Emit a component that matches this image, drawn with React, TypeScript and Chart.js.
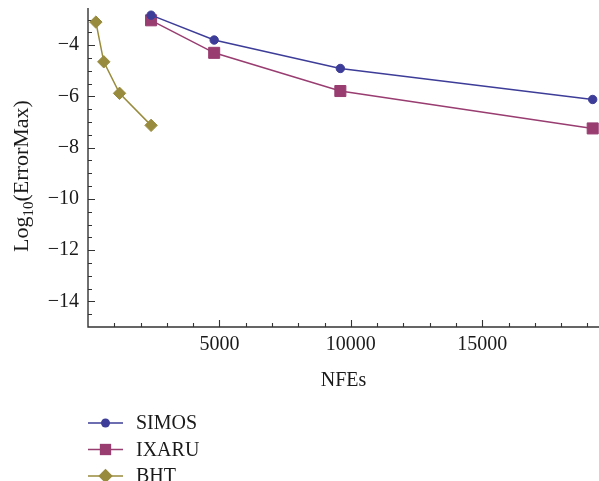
import React, { useEffect, useRef } from 'react';
import { Chart, registerables } from 'chart.js';

Chart.register(...registerables);

// ---- data ----
const seriesNames = ['SIMOS', 'IXARU', 'BHT'];
const simosNFEs = [2400, 4800, 9600, 19200];
const simosLogErr = [-2.83, -3.8, -4.91, -6.12];
const ixaruNFEs = [2400, 4800, 9600, 19200];
const ixaruLogErr = [-3.03, -4.3, -5.79, -7.25];
const bhtNFEs = [300, 600, 1200, 2400];
const bhtLogErr = [-3.1, -4.65, -5.88, -7.13];
const xTickValues = [5000, 10000, 15000];
const yTickValues = [-14, -12, -10, -8, -6, -4];
const xTitle = 'NFEs';
const yTitleMain = 'Log';
const yTitleSub = '10';
const yTitleRest = '(ErrorMax)';

// ---- styles ----
const FONT = '"Liberation Serif", "Times New Roman", serif';
const TEXT_COLOR = '#1a1a1a';
const AXIS_COLOR = '#333333';
const COLORS = ['rgb(61,61,153)', 'rgb(153,61,113)', 'rgb(153,139,61)'];
const POINT_STYLES = ['circle', 'rect', 'rectRot'];
const POINT_RADII = [4.2, 7.8, 6.2];

function toPoints(xs: number[], ys: number[]) {
  return xs.map((x, i) => ({ x, y: ys[i] }));
}

function drawMarker(ctx: CanvasRenderingContext2D, style: string, x: number, y: number, r: number) {
  ctx.beginPath();
  if (style === 'circle') {
    ctx.arc(x, y, r, 0, Math.PI * 2);
  } else if (style === 'rect') {
    const s = r * Math.SQRT1_2;
    ctx.rect(x - s, y - s, 2 * s, 2 * s);
  } else {
    ctx.moveTo(x - r, y);
    ctx.lineTo(x, y - r);
    ctx.lineTo(x + r, y);
    ctx.lineTo(x, y + r);
    ctx.closePath();
  }
  ctx.fill();
}

const framePlugin = {
  id: 'frame',
  beforeDatasetsDraw(chart: any) {
    const { ctx, chartArea } = chart;
    const { left, right, top, bottom } = chartArea;
    const xs = chart.scales.x;
    const ys = chart.scales.y;
    ctx.save();
    ctx.strokeStyle = AXIS_COLOR;
    ctx.lineWidth = 1.4;
    ctx.beginPath();
    ctx.moveTo(left, top);
    ctx.lineTo(left, bottom);
    ctx.lineTo(right, bottom);
    ctx.stroke();
    ctx.lineWidth = 1.1;
    ctx.beginPath();
    for (let v = 1000; v <= xs.max; v += 1000) {
      const px = Math.round(xs.getPixelForValue(v)) + 0.5;
      const len = v % 5000 === 0 ? 7 : 4;
      ctx.moveTo(px, bottom);
      ctx.lineTo(px, bottom - len);
    }
    for (let v = ys.min + 0.5; v <= ys.max; v += 0.5) {
      const py = Math.round(ys.getPixelForValue(v)) + 0.5;
      const len = Math.abs(v % 2) < 1e-9 ? 7 : 4;
      ctx.moveTo(left, py);
      ctx.lineTo(left + len, py);
    }
    ctx.stroke();
    ctx.restore();
  },
  afterDraw(chart: any) {
    const { ctx } = chart;
    ctx.save();
    // y-axis title with subscript
    ctx.fillStyle = TEXT_COLOR;
    ctx.translate(21, 176);
    ctx.rotate(-Math.PI / 2);
    ctx.textBaseline = 'alphabetic';
    ctx.font = `22px ${FONT}`;
    const wMain = ctx.measureText(yTitleMain).width;
    const wRest = ctx.measureText(yTitleRest).width;
    ctx.font = `15px ${FONT}`;
    const wSub = ctx.measureText(yTitleSub).width;
    let p = -(wMain + wSub + wRest) / 2;
    ctx.font = `22px ${FONT}`;
    ctx.fillText(yTitleMain, p, 7);
    p += wMain;
    ctx.font = `15px ${FONT}`;
    ctx.fillText(yTitleSub, p, 12);
    p += wSub;
    ctx.font = `22px ${FONT}`;
    ctx.fillText(yTitleRest, p, 7);
    ctx.restore();

    // legend
    ctx.save();
    chart.data.datasets.forEach((ds: any, i: number) => {
      const cy = 423 + i * 26.5;
      ctx.strokeStyle = ds.borderColor;
      ctx.lineWidth = 1.5;
      ctx.beginPath();
      ctx.moveTo(88, cy);
      ctx.lineTo(123, cy);
      ctx.stroke();
      ctx.fillStyle = ds.borderColor;
      drawMarker(ctx, POINT_STYLES[i], 105.5, cy, [4.5, 8, 7.2][i]);
      ctx.fillStyle = TEXT_COLOR;
      ctx.font = `20px ${FONT}`;
      ctx.textBaseline = 'middle';
      ctx.textAlign = 'left';
      ctx.fillText(ds.label, 136, cy + 1);
    });
    ctx.restore();
  },
};

export default function App() {
  const canvasRef = useRef<HTMLCanvasElement | null>(null);

  useEffect(() => {
    document.body.style.margin = '0';
    const canvas = canvasRef.current;
    if (!canvas) return;
    const xsList = [simosNFEs, ixaruNFEs, bhtNFEs];
    const ysList = [simosLogErr, ixaruLogErr, bhtLogErr];
    const chart = new Chart(canvas, {
      type: 'line',
      data: {
        datasets: seriesNames.map((name, i) => ({
          label: name,
          data: toPoints(xsList[i], ysList[i]),
          borderColor: COLORS[i],
          backgroundColor: COLORS[i],
          borderWidth: 1.5,
          pointStyle: POINT_STYLES[i] as any,
          pointRadius: POINT_RADII[i],
          pointBackgroundColor: COLORS[i],
          pointBorderColor: COLORS[i],
          pointBorderWidth: 1,
          fill: false,
          tension: 0,
          clip: 12,
        })),
      },
      options: {
        animation: false,
        responsive: false,
        maintainAspectRatio: false,
        layout: { autoPadding: false, padding: { top: 8, right: 0, bottom: 88, left: 0 } },
        plugins: {
          legend: { display: false },
          tooltip: { enabled: false },
          title: { display: false },
        },
        scales: {
          x: {
            type: 'linear',
            min: 0,
            max: 19440,
            grid: { display: false, drawTicks: false },
            border: { display: false },
            afterBuildTicks: (scale: any) => {
              scale.ticks = xTickValues.map((v) => ({ value: v }));
            },
            afterFit: (scale: any) => {
              scale.height = 66;
              scale.paddingLeft = 0;
              scale.paddingRight = 0;
              scale.paddingTop = 0;
              scale.paddingBottom = 0;
            },
            ticks: {
              color: TEXT_COLOR,
              font: { family: FONT, size: 20 },
              padding: 6,
              maxRotation: 0,
              autoSkip: false,
              callback: (v: any) => String(v),
            },
            title: {
              display: true,
              text: xTitle,
              color: TEXT_COLOR,
              font: { family: FONT, size: 20 },
              padding: { top: 0, bottom: 0 },
            },
          },
          y: {
            type: 'linear',
            min: -15,
            max: -2.55,
            grid: { display: false, drawTicks: false },
            border: { display: false },
            afterBuildTicks: (scale: any) => {
              scale.ticks = yTickValues.map((v) => ({ value: v }));
            },
            afterFit: (scale: any) => {
              scale.width = 88;
              scale.paddingLeft = 0;
              scale.paddingRight = 0;
              scale.paddingTop = 0;
              scale.paddingBottom = 0;
            },
            ticks: {
              color: TEXT_COLOR,
              font: { family: FONT, size: 20 },
              padding: 9,
              autoSkip: false,
              callback: (v: any) => String(v).replace('-', '\u2212'),
            },
            title: { display: false },
          },
        },
      },
      plugins: [framePlugin],
    });
    return () => chart.destroy();
  }, []);

  return (
    <div style={{ width: 599, height: 481 }}>
      <canvas ref={canvasRef} width={599} height={481} style={{ display: 'block' }} />
    </div>
  );
}
